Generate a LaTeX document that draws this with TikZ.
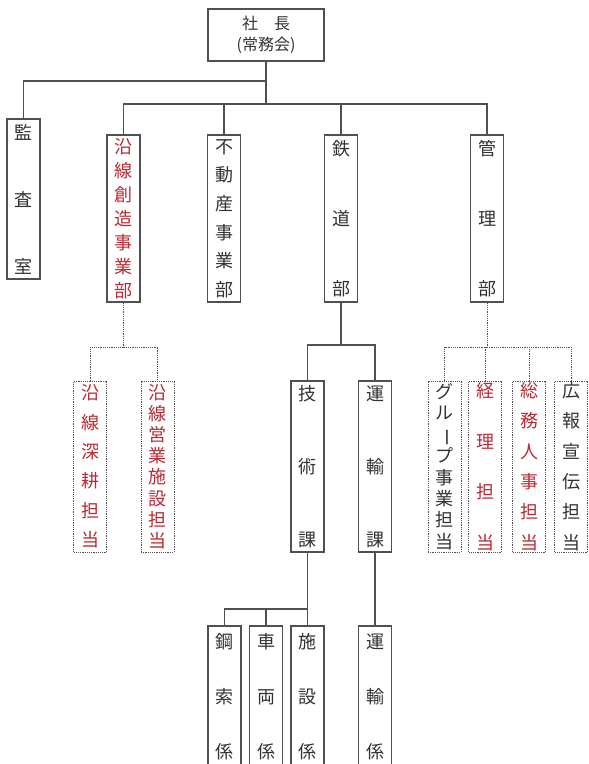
\documentclass[tikz,border=0pt]{standalone}
\usepackage{fontspec}
\usepackage{graphicx}
\setmainfont{Noto Sans CJK JP}
\usetikzlibrary{calc}
\definecolor{orgRed}{RGB}{185,42,52}
\definecolor{orgText}{RGB}{50,50,50}
\definecolor{orgLine}{RGB}{80,80,80}

\begin{document}
\begin{tikzpicture}[
  x=1pt, y=-1pt,
  unitbox/.style={draw=orgLine, line width=1.1pt, minimum width=33pt, minimum height=167pt,
                  inner sep=0pt, align=center, text=orgText},
  tantobox/.style={unitbox, line width=0.9pt, dash pattern=on 1.2pt off 1pt, minimum height=171pt},
  redtext/.style={text=orgRed},
  linepitch/.style={font=\fontsize{18}{#1}\selectfont},
  orgline/.style={draw=orgLine, line width=1.1pt},
  dotline/.style={orgline, line width=0.9pt, dash pattern=on 1.2pt off 1pt}
]
\clip (0,0) rectangle (589,764);
\fill[white] (0,0) rectangle (589,764);

% top
\node[unitbox, minimum width=116pt, minimum height=52pt, font=\fontsize{16}{21}\selectfont]
  (president) at (266,35) {社　長\\(常務会)};

% departments
\node[unitbox, minimum height=160pt, linepitch=67] (audit) at (23.5,199) {監\\査\\室};
\node[unitbox, redtext, linepitch=24] (ensen) at (123.5,218.5) {沿\\線\\創\\造\\事\\業\\部};
\node[unitbox, linepitch=28.6] (realestate) at (224,218.5) {不\\動\\産\\事\\業\\部};
\node[unitbox, linepitch=70] (railway) at (341,218.5) {鉄\\道\\部};
\node[unitbox, linepitch=70] (admin) at (487,218.5) {管\\理\\部};

% sections and staff
\node[tantobox, redtext, linepitch=29.4] (ensenA) at (90,466.5) {沿\\線\\深\\耕\\担\\当};
\node[tantobox, redtext, linepitch=21.2] (ensenB) at (157.5,466.5) {沿\\線\\営\\業\\施\\設\\担\\当};
\node[unitbox, minimum height=171pt, linepitch=73] (tech) at (307.5,466.5) {技\\術\\課};
\node[unitbox, minimum height=171pt, linepitch=73] (transport) at (375,466.5) {運\\輸\\課};
\node[tantobox, linepitch=21.4] (group) at (444.5,466.5)
  {グ\\ル\\\rotatebox[origin=c]{-90}{ー}\\プ\\事\\業\\担\\当};
\node[tantobox, redtext, linepitch=50.5] (accounting) at (485,466.5) {経\\理\\担\\当};
\node[tantobox, redtext, linepitch=30.4] (general) at (529,466.5) {総\\務\\人\\事\\担\\当};
\node[tantobox, linepitch=30.4] (pr) at (571,466.5) {広\\報\\宣\\伝\\担\\当};

% kakari
\node[unitbox, minimum height=141pt, linepitch=55] (ropeway) at (224.5,696.5) {鋼\\索\\係};
\node[unitbox, minimum height=141pt, linepitch=55] (vehicle) at (266,696.5) {車\\両\\係};
\node[unitbox, minimum height=141pt, linepitch=55] (facility) at (307.5,696.5) {施\\設\\係};
\node[unitbox, minimum height=141pt, linepitch=55] (transportstaff) at (375,696.5) {運\\輸\\係};

% connectors
\coordinate (topbus) at (0,81);
\coordinate (deptbus) at (0,104);
\coordinate (sectbus) at (0,345);
\coordinate (tantobus) at (0,347);
\coordinate (kakaribus) at (0,609);

\draw[orgline] (president.south) -- (president.south |- deptbus);
\draw[orgline] (president.south |- topbus) -| (audit.north);
\foreach \dept in {ensen,realestate,railway,admin}
  \draw[orgline] (president.south |- deptbus) -| (\dept.north);

\draw[orgline] (railway.south) -- (railway.south |- sectbus);
\foreach \sect in {tech,transport}
  \draw[orgline] (railway.south |- sectbus) -| (\sect.north);

\draw[dotline] (ensen.south) -- (ensen.south |- tantobus);
\foreach \tanto in {ensenA,ensenB}
  \draw[dotline] (ensen.south |- tantobus) -| (\tanto.north);
\draw[dotline] (admin.south) -- (admin.south |- tantobus);
\foreach \tanto in {group,accounting,general,pr}
  \draw[dotline] (admin.south |- tantobus) -| (\tanto.north);

\draw[orgline] (tech.south) -- (tech.south |- kakaribus);
\foreach \kakari in {ropeway,vehicle,facility}
  \draw[orgline] (tech.south |- kakaribus) -| (\kakari.north);
\draw[orgline] (transport.south) -- (transportstaff.north);
\end{tikzpicture}
\end{document}
